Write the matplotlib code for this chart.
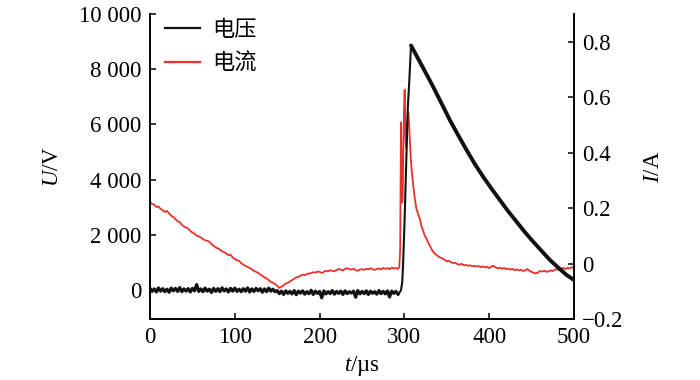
import matplotlib
matplotlib.use("Agg")
import matplotlib.pyplot as plt
import numpy as np

plt.rcParams['font.family'] = ['Liberation Serif', 'Noto Sans CJK SC', 'DejaVu Sans']
plt.rcParams['mathtext.fontset'] = 'custom'
plt.rcParams['mathtext.rm'] = 'Liberation Serif'
plt.rcParams['mathtext.it'] = 'Liberation Serif:italic'
plt.rcParams['axes.unicode_minus'] = True

# ---------------- data ----------------
# Voltage (V) — baseline before breakdown, sampled every 2.5 us from 0 to 292.5 us
t_volt_base = np.arange(0, 295, 2.5)
volt_base = [60, -50, 40, -70, 80, -40, 50, -60, 30, -80, 70, -30, 60, -50, 90, -60, 40, -40,
             50, -70, 60, -30, 200, -50, 40, -60, 70, -40, 30, -90, 60, -50, 50, -60, 80, -30,
             40, -70, 60, -40, 70, -50, 30, -60, 50, -40, 80, -70, 40, -50, 60, -30, 50, -80,
             40, -60, 70, -40, 30, -60,
             -20, -130, -40, -160, -30, -120, -50, -140, -20, -170, -40, -110, -30, -150, -60,
             -130, -10, -160, -40, -120, -50, -280, -30, -140, -60, -130, -20, -150, -50, -120,
             -40, -160, -30, -130, -60, -110, -40, -260, -20, -140, -50, -130, -30, -160, -40,
             -120, -60, -150, -20, -130, -50, -140, -30, -250, -40, -120, -50, -150]
# Voltage rise
t_volt_rise = [292.5, 295, 296, 297.5, 298.5, 300, 302.5, 304, 305.8, 307.8]
volt_rise = [-150, -60, 0, 300, 980, 2300, 5000, 6600, 7600, 8860]
# Voltage decay
t_volt_decay = [307.8, 310, 315, 320, 327, 334.1, 344, 353.8, 363.6, 373.5, 383, 393, 402.8,
                412.7, 422.5, 432.4, 442, 452, 462, 471.7, 481.5, 491.4, 500]
volt_decay = [8860, 8735, 8450, 8165, 7765, 7353, 6750, 6148, 5600, 5063, 4570, 4098, 3670,
              3255, 2850, 2470, 2100, 1747, 1410, 1085, 810, 542, 362]

# Current (A) — before breakdown, every 2.5 us from 0 to 292.5 us
t_curr_pre = np.arange(0, 295, 2.5)
curr_pre = [0.222, 0.215, 0.212, 0.204, 0.206, 0.197, 0.192, 0.186, 0.190, 0.181, 0.172, 0.168,
            0.160, 0.153, 0.149, 0.140, 0.134, 0.130, 0.126, 0.118, 0.112, 0.108, 0.101, 0.098,
            0.094, 0.088, 0.084, 0.082, 0.079, 0.070, 0.064, 0.058, 0.055, 0.050, 0.044, 0.041,
            0.036, 0.030, 0.032, 0.022, 0.016, 0.012, 0.010, 0.002, -0.004, -0.008, -0.012,
            -0.016, -0.020, -0.026, -0.030, -0.033, -0.040, -0.044, -0.050, -0.053, -0.060,
            -0.066, -0.069, -0.074, -0.080, -0.088, -0.084, -0.078, -0.072, -0.070, -0.064,
            -0.060, -0.055, -0.050, -0.048, -0.044, -0.040, -0.042, -0.038, -0.036, -0.035,
            -0.031, -0.033, -0.029, -0.030, -0.034, -0.030, -0.026, -0.028, -0.024, -0.026,
            -0.028, -0.023, -0.020, -0.022, -0.025, -0.019, -0.017, -0.020, -0.022, -0.018,
            -0.024, -0.026, -0.022, -0.020, -0.023, -0.019, -0.021, -0.017, -0.020, -0.023,
            -0.019, -0.018, -0.021, -0.016, -0.019, -0.017, -0.020, -0.015, -0.018, -0.016,
            -0.019]
# Current spike and fast decay
t_curr_spike = [292.5, 294, 295, 295.5, 296, 296.7, 297.3, 298, 298.7, 299.5, 300.3, 301,
                301.5, 302.3, 303, 304, 304.6, 305.5, 306.5, 307.5, 308.5, 309.5, 310.5, 312,
                314, 316, 318.4, 320, 322, 324, 326.3, 328, 330, 332, 334, 336, 338, 340, 342,
                344, 346, 348, 350]
curr_spike = [-0.019, -0.012, 0.05, 0.30, 0.51, 0.35, 0.22, 0.24, 0.40, 0.55, 0.627, 0.52,
              0.44, 0.42, 0.48, 0.53, 0.547, 0.50, 0.44, 0.38, 0.34, 0.31, 0.28, 0.24, 0.20,
              0.18, 0.16, 0.135, 0.12, 0.10, 0.089, 0.075, 0.065, 0.052, 0.042, 0.036, 0.030,
              0.026, 0.022, 0.020, 0.016, 0.012, 0.008]
# Current tail, every 2.5 us from 350 to 500 us
t_curr_tail = np.arange(350, 502, 2.5)
curr_tail = [0.008, 0.010, 0.004, 0.002, 0.003, -0.002, -0.004, -0.001, -0.006, -0.005, -0.008,
             -0.006, -0.010, -0.008, -0.011, -0.009, -0.013, -0.010, -0.014, -0.012, -0.016,
             -0.011, -0.008, -0.014, -0.017, -0.015, -0.019, -0.016, -0.020, -0.018, -0.022,
             -0.019, -0.024, -0.021, -0.025, -0.022, -0.027, -0.024, -0.020, -0.026, -0.030,
             -0.033, -0.036, -0.032, -0.027, -0.029, -0.026, -0.030, -0.028, -0.025, -0.027,
             -0.022, -0.020, -0.023, -0.018, -0.016, -0.020, -0.015, -0.018, -0.013, -0.016]

x_ticks = [0, 100, 200, 300, 400, 500]
v_ticks = [0, 2000, 4000, 6000, 8000, 10000]
v_tick_labels = ['0', '2 000', '4 000', '6 000', '8 000', '10 000']
i_ticks = [-0.2, 0, 0.2, 0.4, 0.6, 0.8]
i_tick_labels = ['\u22120.2', '0', '0.2', '0.4', '0.6', '0.8']
series_names = ['电压', '电流']

assert len(t_volt_base) == len(volt_base)
assert len(t_curr_pre) == len(curr_pre)
assert len(t_curr_tail) == len(curr_tail)

# ---------------- figure ----------------
fig = plt.figure(figsize=(7, 3.8), dpi=100)
ax = fig.add_axes([0.2143, 0.1605, 0.6057, 0.8025])
ax2 = ax.twinx()

black = '#111111'
red = '#e8312a'
ax.plot(t_volt_base, volt_base, color=black, lw=2.3, zorder=3)
ax.plot(t_volt_rise, volt_rise, color=black, lw=1.5, zorder=3)
ax.plot(t_volt_decay, volt_decay, color=black, lw=2.8, zorder=3, solid_capstyle='round')

t_curr = np.concatenate([t_curr_pre, t_curr_spike[1:], t_curr_tail[1:]])
curr = np.concatenate([curr_pre, curr_spike[1:], curr_tail[1:]])
ax2.plot(t_curr, curr, color=red, lw=1.3, zorder=2)

ax.set_zorder(ax2.get_zorder() + 1)
ax.patch.set_visible(False)

ax.set_xlim(0, 500)
ax.set_ylim(-1050, 10000)
ax2.set_ylim(-0.2, 0.9)

ax.set_xticks(x_ticks)
ax.set_xticklabels([str(v) for v in x_ticks])
ax.set_yticks(v_ticks)
ax.set_yticklabels(v_tick_labels)
ax2.set_yticks(i_ticks)
ax2.set_yticklabels(i_tick_labels)

for a in (ax, ax2):
    a.spines['top'].set_visible(False)
    for s in a.spines.values():
        s.set_linewidth(1.2)
    a.tick_params(direction='in', length=4, width=1.1, labelsize=16.5, pad=6)

ax.set_xlabel(r'$t$/µs', fontsize=16.5, labelpad=4)
ax.set_ylabel(r'$U$/V', fontsize=16.5, labelpad=12)
ax2.set_ylabel(r'$I$/A', fontsize=16.5, labelpad=14)

h1, = ax.plot([], [], color=black, lw=1.6)
h2, = ax.plot([], [], color=red, lw=1.6)
leg = fig.legend([h1, h2], series_names, loc='upper left', bbox_to_anchor=(0.236, 0.953),
                 frameon=False, handlelength=1.55, handletextpad=0.55, labelspacing=0.5,
                 borderpad=0, borderaxespad=0,
                 prop={'family': ['Noto Sans CJK SC'], 'size': 16})

fig.savefig('out.png', dpi=100)
